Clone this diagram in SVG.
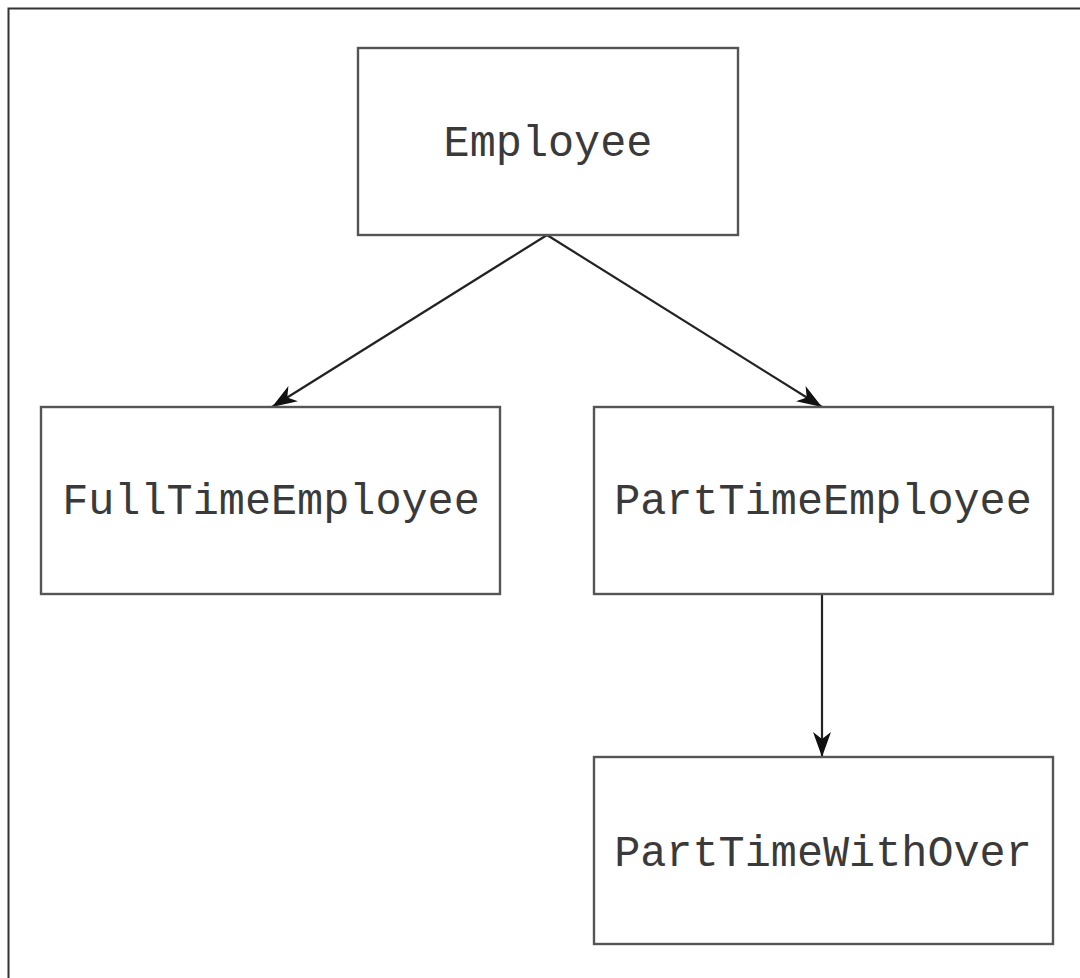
<svg xmlns="http://www.w3.org/2000/svg" width="1080" height="978" viewBox="0 0 1080 978">
<style>
.box{fill:#fff;stroke:#555;stroke-width:2.4}
.lbl{font-family:"Liberation Mono","Courier New",monospace;font-size:43.5px;fill:#3a3a3a;text-anchor:middle}
.conn{stroke:#222;stroke-width:2.2;fill:none}
</style>
<defs>
<marker id="arr" markerUnits="userSpaceOnUse" markerWidth="28" markerHeight="22" refX="25" refY="10" orient="auto">
<path d="M0,1 L25,10 L0,19 L7,10 z" fill="#111"/>
</marker>
</defs>
<rect width="1080" height="978" fill="#fff"/>
<path d="M8.5,1000 V8.5 H1100" fill="none" stroke="#333" stroke-width="2"/>
<g id="connectors">
<line class="conn" x1="547" y1="235" x2="272" y2="407" marker-end="url(#arr)"/>
<line class="conn" x1="547" y1="235" x2="822" y2="407" marker-end="url(#arr)"/>
<line class="conn" x1="822" y1="594" x2="822" y2="757" marker-end="url(#arr)"/>
</g>
<g id="employee">
<rect class="box" x="358" y="48" width="380" height="187"/>
<text class="lbl" x="548" y="156">Employee</text>
</g>
<g id="fulltime">
<rect class="box" x="41" y="407" width="459" height="187"/>
<text class="lbl" x="271" y="514">FullTimeEmployee</text>
</g>
<g id="parttime">
<rect class="box" x="594" y="407" width="459" height="187"/>
<text class="lbl" x="823" y="514">PartTimeEmployee</text>
</g>
<g id="parttimewithover">
<rect class="box" x="594" y="757" width="459" height="187"/>
<text class="lbl" x="823" y="866">PartTimeWithOver</text>
</g>
</svg>
